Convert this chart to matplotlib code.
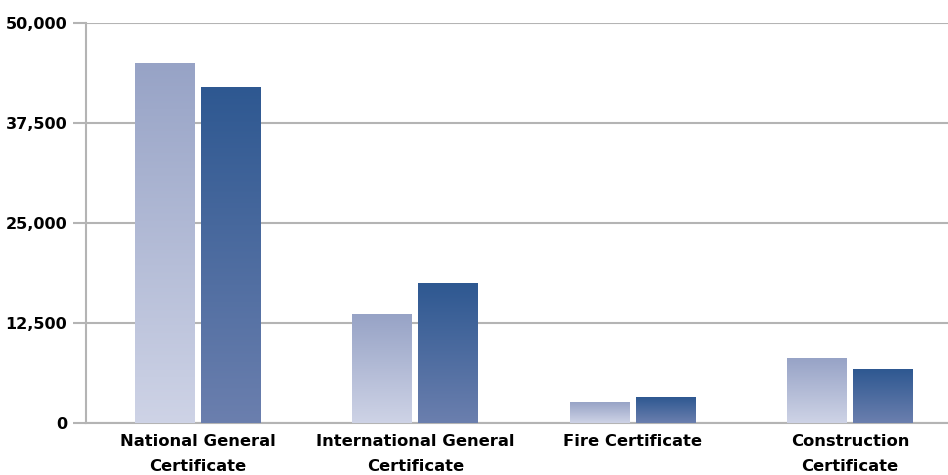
import numpy as np
import matplotlib
matplotlib.use("Agg")
import matplotlib.pyplot as plt
from matplotlib.colors import LinearSegmentedColormap

categories = ["National General\nCertificate", "International General\nCertificate",
              "Fire Certificate", "Construction\nCertificate"]
series_a = [45000, 13600, 2600, 8100]
series_b = [41900, 17500, 3250, 6750]
yticks = [0, 12500, 25000, 37500, 50000]
ytick_labels = ["0", "12,500", "25,000", "37,500", "50,000"]

plt.rcParams['font.family'] = ['DejaVu Sans']

fig = plt.figure(figsize=(9.48, 4.75), dpi=100)
ax = fig.add_axes([86 / 948, 52 / 475, 1 - 86 / 948, 400 / 475])

grid_col = "#B4B4B4"
x = np.arange(len(categories))
width = 0.276
offset = 0.152

cmap_a = LinearSegmentedColormap.from_list("a", ["#CED3E6", "#97A3C6"])
cmap_b = LinearSegmentedColormap.from_list("b", ["#6B7FAE", "#2E5891"])
grad = np.linspace(0, 1, 256).reshape(-1, 1)

def gradient_bars(xpos, vals, cmap):
    bars = ax.bar(xpos, vals, width=width, color="none", edgecolor="none", zorder=3)
    for b in bars:
        x0, y0 = b.get_x(), b.get_y()
        ax.imshow(grad, cmap=cmap, origin="lower", aspect="auto",
                  extent=(x0, x0 + b.get_width(), y0, y0 + b.get_height()),
                  zorder=3, interpolation="bilinear")

gradient_bars(x - offset, series_a, cmap_a)
gradient_bars(x + offset, series_b, cmap_b)

ax.set_xlim(-0.516, 3.451)
ax.set_ylim(0, 50000)
ax.set_yticks(yticks)
ax.set_yticklabels(ytick_labels, fontsize=11.5, fontweight="bold")
ax.set_xticks(x)
ax.set_xticklabels(categories, fontsize=11.8, fontweight="bold", linespacing=1.8)

ax.yaxis.grid(True, color=grid_col, linewidth=1.5, zorder=0)
ax.set_axisbelow(True)
ax.tick_params(axis="y", length=9.5, width=1.5, color=grid_col, pad=4)
ax.tick_params(axis="x", length=0, pad=8)
for s in ["top", "right"]:
    ax.spines[s].set_visible(False)
ax.spines["left"].set_color(grid_col)
ax.spines["left"].set_linewidth(1.5)
ax.spines["bottom"].set_color(grid_col)
ax.spines["bottom"].set_linewidth(1.5)

fig.savefig("out.png", dpi=100)
